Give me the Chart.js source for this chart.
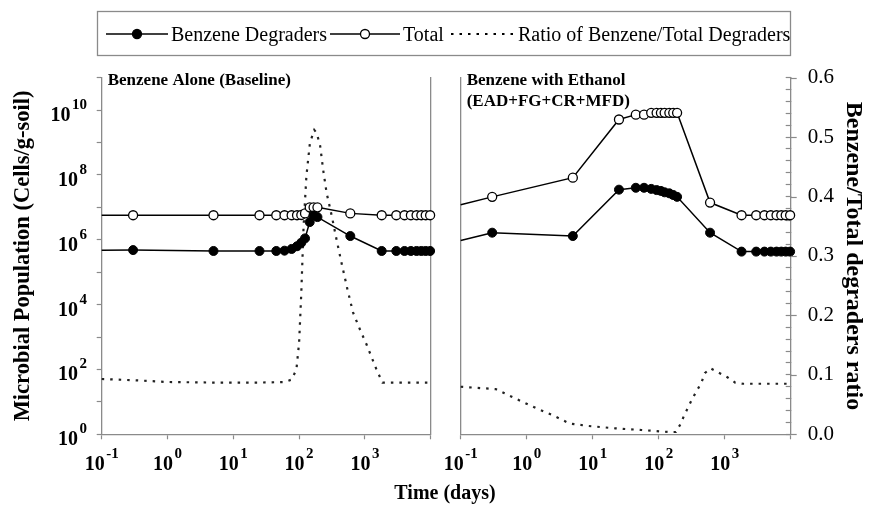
<!DOCTYPE html>
<html>
<head>
<meta charset="utf-8">
<script src="https://cdn.jsdelivr.net/npm/chart.js@4.4.0/dist/chart.umd.min.js"></script>
<style>
  html, body { margin: 0; padding: 0; background: #fff; }
  #wrap { position: relative; width: 871px; height: 508px; }
  #wrap canvas { position: absolute; left: 0; top: 0; }
</style>
</head>
<body>
<div id="wrap">
  <canvas id="alone" width="871" height="508"></canvas>
  <canvas id="ethanol" width="871" height="508"></canvas>
</div>
<script>
// ---- values (days on log axis, cells/g-soil on log axis)
var days = [0.1, 0.3, 5, 25, 45, 60, 77, 93, 108, 123, 145, 166, 190, 600, 1800, 3000, 4000, 5000, 6100, 7200, 8400, 9800];

var aloneBenzene = [4.7e5, 4.8e5, 4.5e5, 4.5e5, 4.5e5, 4.6e5, 5.2e5, 6.3e5, 8.1e5, 1.1e6, 3.5e6, 5.6e6, 5.0e6, 1.3e6, 4.5e5, 4.5e5, 4.5e5, 4.5e5, 4.5e5, 4.5e5, 4.5e5, 4.5e5];
var aloneTotal   = [5.7e6, 5.7e6, 5.7e6, 5.7e6, 5.7e6, 5.7e6, 5.7e6, 5.7e6, 5.8e6, 6.5e6, 1.0e7, 1.0e7, 1.0e7, 6.5e6, 5.7e6, 5.7e6, 5.7e6, 5.7e6, 5.7e6, 5.7e6, 5.7e6, 5.7e6];

var ethBenzene = [9.5e5, 1.65e6, 1.3e6, 3.5e7, 4.0e7, 4.0e7, 3.7e7, 3.4e7, 3.2e7, 2.9e7, 2.7e7, 2.4e7, 2.1e7, 1.65e6, 4.3e5, 4.3e5, 4.3e5, 4.3e5, 4.3e5, 4.3e5, 4.3e5, 4.3e5];
var ethTotal   = [1.2e7, 2.1e7, 8.2e7, 5.1e9, 7.2e9, 7.2e9, 8.2e9, 8.2e9, 8.2e9, 8.2e9, 8.2e9, 8.2e9, 8.2e9, 1.4e7, 5.7e6, 5.7e6, 5.7e6, 5.7e6, 5.7e6, 5.7e6, 5.7e6, 5.7e6];

// ratio curves (right axis)
var aloneRatioDays = [0.1, 0.3, 1, 5, 25, 60, 77, 91, 100, 108, 117, 129, 146, 170, 185, 209, 232, 262, 314, 370, 440, 540, 660, 850, 1060, 1500, 1850, 3000, 10000];
var aloneRatio     = [0.093, 0.091, 0.088, 0.087, 0.087, 0.088, 0.092, 0.109, 0.154, 0.238, 0.35, 0.434, 0.49, 0.512, 0.507, 0.485, 0.445, 0.406, 0.367, 0.328, 0.289, 0.245, 0.205, 0.175, 0.151, 0.109, 0.087, 0.087, 0.087];

var ethRatioDays = [0.1, 0.34, 0.46, 0.81, 1.45, 2.6, 4.5, 8.6, 22, 55, 138, 182, 210, 245, 324, 444, 500, 610, 800, 1100, 1440, 1900, 10000];
var ethRatio     = [0.080, 0.076, 0.069, 0.056, 0.043, 0.031, 0.018, 0.014, 0.010, 0.0072, 0.0039, 0.0039, 0.0156, 0.0325, 0.060, 0.087, 0.103, 0.111, 0.104, 0.096, 0.087, 0.085, 0.085];

var xPowers = [-1, 0, 1, 2, 3];
var yPowers = [0, 2, 4, 6, 8, 10];

var seriesNames = ['Benzene Degraders', 'Total', 'Ratio of Benzene/Total Degraders'];
var aloneTitle = ['Benzene Alone (Baseline)'];
var ethTitle = ['Benzene with Ethanol', '(EAD+FG+CR+MFD)'];

var SERIF = "'Liberation Serif', 'Times New Roman', Times, serif";
var GRAY = '#8a8a8a';
Chart.defaults.font.family = SERIF;
Chart.defaults.color = '#000';

function pairs(xs, ys) {
    return xs.map(function(d, i){ return {x: d, y: ys[i]}; });
}
function decades(from, to) {
    var t = [];
    for (var e = from; e <= to; e++) t.push({value: Math.pow(10, e)});
    return t;
}
// first point only carries the line to the axis, no marker
function hideFirst(c) { return c.dataIndex === 0 ? 0 : 4.5; }

function datasets(benz, total, rDays, ratio) {
    return [
        { label: seriesNames[0], data: pairs(days, benz), yAxisID: 'y', clip: false,
          borderColor: '#000', borderWidth: 1.5, pointRadius: hideFirst,
          pointBackgroundColor: '#000', pointBorderColor: '#000', pointBorderWidth: 1 },
        { label: seriesNames[1], data: pairs(days, total), yAxisID: 'y', clip: false,
          borderColor: '#000', borderWidth: 1.5, pointRadius: hideFirst,
          pointBackgroundColor: '#fff', pointBorderColor: '#000', pointBorderWidth: 1.3 },
        { label: seriesNames[2], data: pairs(rDays, ratio), yAxisID: 'ratio', clip: false,
          borderColor: '#222', borderWidth: 2.2, borderDash: [2.5, 6], pointRadius: 0 }
    ];
}

function xScale() {
    return {
        type: 'logarithmic', min: 0.1, max: 10000,
        afterBuildTicks: function(s){ s.ticks = decades(-1, 4); },
        ticks: { display: false },
        grid: { drawOnChartArea: false, tickLength: 5, color: GRAY, tickWidth: 1.2 },
        border: { color: GRAY, width: 1.3 },
        afterFit: function(s){ s.height = 508 - 434.3; }
    };
}

// "10" with a raised exponent
function drawPow(ctx, x, y, exp, align) {
    ctx.font = 'bold 20px ' + SERIF;
    var wb = ctx.measureText('10').width;
    ctx.font = 'bold 15px ' + SERIF;
    var ws = ctx.measureText(exp).width;
    var x0 = align === 'right' ? x - wb - ws - 1.5 : x - (wb + ws + 1.5) / 2;
    ctx.textAlign = 'left';
    ctx.textBaseline = 'alphabetic';
    ctx.font = 'bold 20px ' + SERIF;
    ctx.fillText('10', x0, y);
    ctx.font = 'bold 15px ' + SERIF;
    ctx.fillText(exp, x0 + wb + 1.5, y - 12);
}

function drawLegend(ctx, names) {
    ctx.strokeStyle = GRAY;
    ctx.lineWidth = 1.3;
    ctx.strokeRect(97.5, 11.5, 693, 44);
    ctx.font = '20px ' + SERIF;
    ctx.textAlign = 'left';
    ctx.textBaseline = 'alphabetic';
    var y = 34;
    var segStart = [106, 330, 451], segEnd = [168, 400, 513], textStart = [171, 403, 518];
    names.forEach(function(name, i){
        ctx.strokeStyle = '#000';
        ctx.lineWidth = i == 2 ? 2.2 : 1.5;
        ctx.setLineDash(i == 2 ? [2.5, 6] : []);
        ctx.beginPath(); ctx.moveTo(segStart[i], y); ctx.lineTo(segEnd[i], y); ctx.stroke();
        ctx.setLineDash([]);
        if (i < 2) {
            ctx.beginPath();
            ctx.arc((segStart[i] + segEnd[i]) / 2, y, 4.5, 0, Math.PI * 2);
            ctx.fillStyle = i == 0 ? '#000' : '#fff';
            ctx.fill();
            ctx.lineWidth = 1.3;
            ctx.stroke();
        }
        ctx.fillStyle = '#000';
        ctx.fillText(name, textStart[i], 41);
    });
}

var figureText = {
    id: 'figureText',
    afterDraw: function(chart, args, opts){
        var ctx = chart.ctx, area = chart.chartArea;
        ctx.save();
        ctx.fillStyle = '#000';
        var xs = chart.scales.x;
        xPowers.forEach(function(p){
            drawPow(ctx, xs.getPixelForValue(Math.pow(10, p)), 470, String(p), 'center');
        });
        if (opts.yLabels) {
            var ys = chart.scales.y;
            yPowers.forEach(function(p){
                drawPow(ctx, 87, ys.getPixelForValue(Math.pow(10, p)) + 11, String(p), 'right');
            });
        }
        ctx.fillStyle = '#000';
        ctx.font = 'bold 17px ' + SERIF;
        ctx.textAlign = 'left';
        ctx.textBaseline = 'alphabetic';
        opts.title.forEach(function(line, i){
            ctx.fillText(line, area.left + 6, 85 + i * 21);
        });
        if (opts.legend) {
            drawLegend(ctx, chart.data.datasets.map(function(d){ return d.label; }));
            ctx.fillStyle = '#000';
            ctx.font = 'bold 20px ' + SERIF;
            ctx.textAlign = 'center';
            ctx.fillText('Time (days)', 445, 499);
        }
        if (opts.ratioStubs) {
            // major ratio ticks cross the axis line
            var r = chart.scales.ratio;
            ctx.strokeStyle = GRAY;
            ctx.lineWidth = 1.2;
            r.ticks.forEach(function(t){
                if (Math.round(t.value * 50) % 5 !== 0) return;
                var py = Math.round(r.getPixelForValue(t.value)) + 0.5;
                ctx.beginPath(); ctx.moveTo(r.left, py); ctx.lineTo(r.left + 6, py); ctx.stroke();
            });
        }
        ctx.restore();
    }
};

var alone = new Chart(document.getElementById('alone'), {
    type: 'line',
    data: { datasets: datasets(aloneBenzene, aloneTotal, aloneRatioDays, aloneRatio) },
    options: {
        responsive: false, animation: false, events: [],
        layout: { padding: { left: 0, right: 871 - 430.7, top: 77.6, bottom: 0 } },
        plugins: {
            legend: { display: false }, tooltip: { enabled: false },
            figureText: { yLabels: true, title: aloneTitle, legend: true }
        },
        scales: {
            x: xScale(),
            y: {
                type: 'logarithmic', position: 'left', min: 1, max: 1e11,
                afterBuildTicks: function(s){ s.ticks = decades(0, 11); },
                ticks: { display: false },
                grid: { drawOnChartArea: false, tickLength: 5, color: GRAY, tickWidth: 1.2 },
                border: { color: GRAY, width: 1.3 },
                title: { display: true, text: 'Microbial Population (Cells/g-soil)', color: '#000',
                         font: { size: 22.5, weight: 'bold' }, padding: { top: 10 } },
                afterFit: function(s){ s.width = 101.7; }
            },
            ratio: {
                type: 'linear', position: 'right', min: 0, max: 0.6,
                ticks: { display: false },
                grid: { drawOnChartArea: false, drawTicks: false },
                border: { color: GRAY, width: 1.3 },
                afterFit: function(s){ s.width = 0; }
            }
        }
    },
    plugins: [figureText]
});

var ethanol = new Chart(document.getElementById('ethanol'), {
    type: 'line',
    data: { datasets: datasets(ethBenzene, ethTotal, ethRatioDays, ethRatio) },
    options: {
        responsive: false, animation: false, events: [],
        layout: { padding: { left: 460.7, right: 0, top: 77.6, bottom: 0 } },
        plugins: {
            legend: { display: false }, tooltip: { enabled: false },
            figureText: { yLabels: false, title: ethTitle, legend: false, ratioStubs: true }
        },
        scales: {
            x: xScale(),
            y: {
                type: 'logarithmic', position: 'left', min: 1, max: 1e11,
                ticks: { display: false },
                grid: { drawOnChartArea: false, drawTicks: false },
                border: { color: GRAY, width: 1.3 },
                afterFit: function(s){ s.width = 0; }
            },
            ratio: {
                type: 'linear', position: 'right', min: 0, max: 0.6,
                ticks: {
                    stepSize: 0.02, autoSkip: false, padding: 22, color: '#000',
                    font: { size: 21 },
                    callback: function(v){ return Math.round(v * 50) % 5 === 0 ? v.toFixed(1) : ''; }
                },
                grid: { drawOnChartArea: false, tickLength: -5, color: GRAY, tickWidth: 1.2 },
                border: { color: GRAY, width: 1.3 },
                title: { display: true, text: 'Benzene/Total degraders ratio', color: '#000',
                         font: { size: 24, weight: 'bold' }, padding: { top: 3 } },
                afterFit: function(s){ s.width = 871 - 790.7; }
            }
        }
    },
    plugins: [figureText]
});
</script>
</body>
</html>
